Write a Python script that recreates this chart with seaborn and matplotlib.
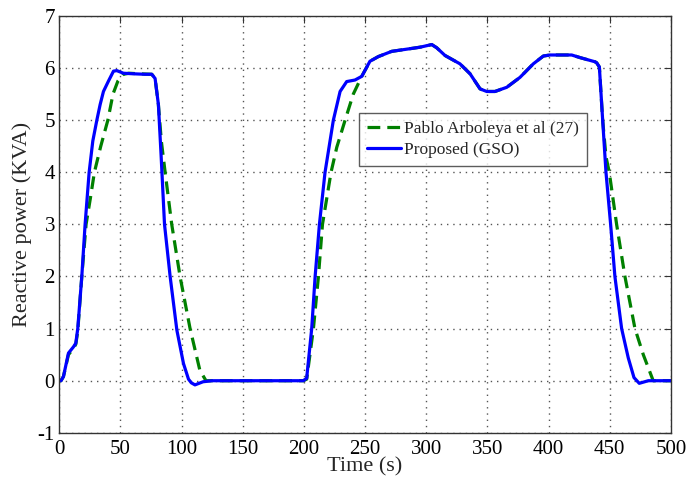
import matplotlib
matplotlib.use("Agg")
import matplotlib.pyplot as plt
import seaborn as sns
import pandas as pd

# Proposed (GSO) reactive power trace
t_gso = [0, 1.5, 3.5, 7.6, 11.7, 13.6, 15.2, 18.5, 21.2, 24.5, 27.5, 30.8, 33.5,
         36.2, 40.3, 44.4, 47.1, 52.5, 60, 70, 75.7, 78.4, 81.1, 83.3, 86.1,
         90.7, 96.2, 101.6, 105.7, 108, 111, 117.6, 125, 150, 180, 199.6,
         202.3, 206.4, 209.2, 212.7, 217.3, 224.1, 229.6, 235, 241.8, 247.3,
         254, 260.9, 271.8, 289.4, 295, 304.5, 308.5, 315.4, 327.6, 335.8, 344,
         349.4, 356.2, 365.8, 376.6, 387.5, 395.7, 401.1, 418.9, 425.7, 437.9,
         439.3, 441.5, 444.2, 446.9, 450.7, 454.2, 459.7, 465.1, 469.8, 474.1,
         481.5, 490, 500]
q_gso = [0, 0, 0.08, 0.53, 0.65, 0.72, 1.0, 2.0, 3.0, 4.0, 4.6, 5.0, 5.3,
         5.55, 5.75, 5.94, 5.95, 5.9, 5.89, 5.88, 5.88, 5.8, 5.3, 4.33, 3.0,
         2.0, 0.97, 0.33, 0.03, -0.04, -0.08, -0.02, 0.0, 0.0, 0.0, 0.0,
         0.05, 1.0, 2.0, 3.0, 4.0, 5.0, 5.55, 5.74, 5.77, 5.84,
         6.13, 6.22, 6.32, 6.38, 6.4, 6.45, 6.39, 6.24, 6.08, 5.89, 5.6,
         5.55, 5.55, 5.63, 5.82, 6.08, 6.23, 6.25, 6.25, 6.2, 6.12,
         6.1, 6.02, 5.0, 4.0, 3.0, 2.0, 1.0, 0.44, 0.06, -0.05,
         0.0, 0.0, 0.0]

# Pablo Arboleya et al (27) reactive power trace
t_ref = [0, 1.5, 3.5, 7.6, 11.7, 13.6, 15.2, 18.5, 22, 25.5, 28.8, 34, 39.8,
         44, 48, 52.5, 57, 65, 75.7, 78.4, 81.1, 83.5, 86.6, 92, 98.8, 107,
         115, 120, 150, 199.6, 202.3, 207.8, 211.9, 215.2, 222.2, 226.9, 233.7,
         240.4, 247.3, 254, 260.9, 271.8, 289.4, 295, 304.5, 308.5, 315.4,
         327.6, 335.8, 344, 349.4, 356.2, 365.8, 376.6, 387.5, 395.7, 401.1,
         418.9, 425.7, 437.9, 439.3, 441.5, 444.2, 446.9, 449.6, 455.6, 462.4,
         470.6, 477.4, 485.5, 500]
q_ref = [0, 0, 0.08, 0.5, 0.62, 0.7, 0.95, 2.0, 3.0, 3.5, 4.0, 4.5, 5.0,
         5.5, 5.75, 5.88, 5.9, 5.89, 5.88, 5.8, 5.3, 4.6, 4.0, 3.0, 2.0, 1.0,
         0.2, 0.0, 0.0, 0.0, 0.03, 1.0, 2.0, 3.0, 4.0, 4.48, 5.0,
         5.5, 5.84, 6.13, 6.22, 6.32, 6.38, 6.4, 6.45, 6.39, 6.24,
         6.08, 5.89, 5.6, 5.55, 5.55, 5.63, 5.82, 6.08, 6.23, 6.25,
         6.25, 6.2, 6.12, 6.1, 6.02, 5.0, 4.3, 4.0, 3.0, 2.0,
         1.0, 0.5, 0.0, 0.0]

x_ticks = [0, 50, 100, 150, 200, 250, 300, 350, 400, 450, 500]
y_ticks = [-1, 0, 1, 2, 3, 4, 5, 6, 7]

sns.set_theme(style="white")
plt.rcParams["font.family"] = ["Liberation Serif", "DejaVu Serif"]
plt.rcParams["axes.unicode_minus"] = False

df_ref = pd.DataFrame({"Time": t_ref, "Q": q_ref})
df_gso = pd.DataFrame({"Time": t_gso, "Q": q_gso})

fig, ax = plt.subplots(figsize=(6.96, 4.82), dpi=100)
fig.subplots_adjust(left=0.085, right=0.964, bottom=0.102, top=0.967)

sns.lineplot(data=df_ref, x="Time", y="Q", ax=ax, color="#008000",
             linewidth=2.3, linestyle=(0, (4, 2.2)), label="Pablo Arboleya et al (27)")
sns.lineplot(data=df_gso, x="Time", y="Q", ax=ax, color="#0000FF",
             linewidth=2.3, label="Proposed (GSO)")

ax.set_xlim(0, 500)
ax.set_ylim(-1, 7)
ax.set_xticks(x_ticks)
ax.set_yticks(y_ticks)
ax.tick_params(direction="in", length=5, width=0.8, color="#333333",
               top=True, right=True, labelsize=15, labelcolor="black")
ax.tick_params(axis="x", pad=5)
ax.tick_params(axis="y", pad=3)
ax.grid(True, linestyle=(0, (1, 3.5)), color="#555555", linewidth=1.0)

for s in ax.spines.values():
    s.set_color("#333333")
    s.set_linewidth(1.0)

ax.set_xlabel("Time (s)", fontsize=16, labelpad=-1)
ax.set_ylabel("Reactive power (KVA)", fontsize=16, labelpad=4)

leg = ax.legend(loc="upper left", bbox_to_anchor=(0.49, 0.766), fontsize=12.5,
                frameon=True, fancybox=False, handlelength=1.95,
                borderpad=0.45, labelspacing=0.25, handletextpad=0.2,
                borderaxespad=0)
leg.get_frame().set_edgecolor("#333333")
leg.get_frame().set_linewidth(1.0)

fig.savefig("out.png", dpi=100)
